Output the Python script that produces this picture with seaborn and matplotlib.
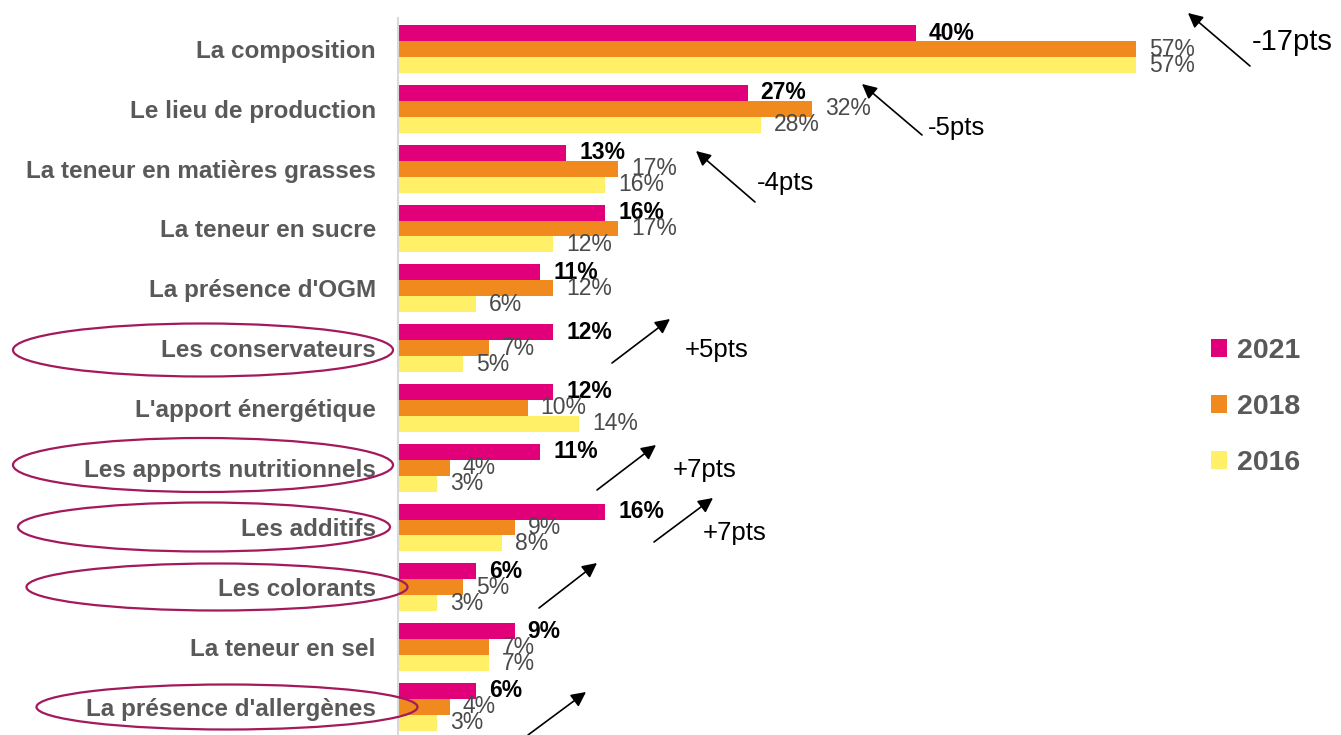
import pandas as pd
import matplotlib.pyplot as plt
import seaborn as sns
from matplotlib.patches import Ellipse, Patch

# Critères regardés sur l'étiquette (%), par année
categories = [
    "La composition",
    "Le lieu de production",
    "La teneur en matières grasses",
    "La teneur en sucre",
    "La présence d'OGM",
    "Les conservateurs",
    "L'apport énergétique",
    "Les apports nutritionnels",
    "Les additifs",
    "Les colorants",
    "La teneur en sel",
    "La présence d'allergènes",
]
years = ["2021", "2018", "2016"]
values_2021 = [40, 27, 13, 16, 11, 12, 12, 11, 16, 6, 9, 6]
values_2018 = [57, 32, 17, 17, 12, 7, 10, 4, 9, 5, 7, 4]
values_2016 = [57, 28, 16, 12, 6, 5, 14, 3, 8, 3, 7, 3]

# Evolutions annotées
trend_labels = ["-17pts", "-5pts", "-4pts", "+5pts", "+7pts", "+7pts"]
circled = ["Les conservateurs", "Les apports nutritionnels", "Les additifs",
           "Les colorants", "La présence d'allergènes"]

palette = {"2021": "#E2007A", "2018": "#F08A1F", "2016": "#FFF068"}

W, H = 1341, 735


def px(x, y):
    # pixel (origin top-left) -> figure fraction
    return (x / W, 1 - y / H)


df = pd.DataFrame({
    "Critère": categories * 3,
    "Année": sum([[y] * len(categories) for y in years], []),
    "Valeur": values_2021 + values_2018 + values_2016,
})

sns.set_style("white")
plt.rcParams["font.family"] = ["Liberation Sans", "DejaVu Sans"]

fig = plt.figure(figsize=(W / 100, H / 100), dpi=100)
ax = fig.add_axes([398 / W, 0, 943 / W, 717 / H])

sns.barplot(
    data=df, x="Valeur", y="Critère", hue="Année", hue_order=years,
    palette=palette, saturation=1, width=0.8, linewidth=0, orient="h",
    ax=ax, legend=False,
)

ax.set_xlim(0, 943 / 12.95)
ax.set_ylim(11.47, -0.52)
ax.set_xlabel("")
ax.set_ylabel("")
ax.set_xticks([])
ax.tick_params(axis="y", length=0, pad=16)
for lab in ax.get_yticklabels():
    lab.set_fontsize(17.5)
    lab.set_fontweight("bold")
    lab.set_color("#595959")
for side in ["top", "right", "bottom"]:
    ax.spines[side].set_visible(False)
ax.spines["left"].set_color("#d9d9d9")
ax.spines["left"].set_linewidth(1.5)

# Etiquettes de valeurs
series = [values_2021, values_2018, values_2016]
for i, cont in enumerate(ax.containers):
    ax.bar_label(
        cont, labels=[f"{v}%" for v in series[i]], padding=9.4,
        fontsize=16.5,
        fontweight="bold" if i == 0 else "normal",
        color="black" if i == 0 else "#4a4a4a",
    )

# Légende
handles = [Patch(facecolor=palette[y], edgecolor="none") for y in years]
leg = fig.legend(
    handles, years, loc="center left", bbox_to_anchor=(1211 / W, 1 - 407 / H),
    frameon=False, fontsize=20.5, handlelength=0.56, handleheight=0.56,
    handletextpad=0.35, labelspacing=1.05, borderpad=0, borderaxespad=0,
)
for t in leg.get_texts():
    t.set_fontweight("bold")
    t.set_color("#595959")

# Flèches d'évolution
trend_pos = [(1252, 50, 21), (928, 135, 18.5), (757, 190, 18.5),
             (685, 357, 18.5), (673, 477, 18.5), (703, 540, 18.5)]
for txt, (x, y, fs) in zip(trend_labels, trend_pos):
    fig.text(*px(x, y), txt, fontsize=fs, color="black", va="baseline")

arrows = [
    ((1250, 66), (1188, 13)),
    ((922, 135), (862, 84)),
    ((755, 202), (696, 151)),
    ((612, 363), (670, 319)),
    ((597, 490), (656, 445)),
    ((654, 542), (713, 498)),
    ((539, 608), (597, 563)),
    ((528, 735), (586, 692)),
]
for tail, head in arrows:
    fig.add_artist(plt.Annotation(
        "", xy=px(*head), xytext=px(*tail),
        xycoords="figure fraction", textcoords="figure fraction",
        arrowprops=dict(arrowstyle="-|>", color="black", lw=1.2,
                        mutation_scale=22, shrinkA=0, shrinkB=0),
    ))

# Ellipses autour des critères mis en avant
ellipse_geom = {
    "Les conservateurs": (203, 350, 380, 53),
    "Les apports nutritionnels": (203, 465, 380, 54),
    "Les additifs": (204, 527, 372, 49),
    "Les colorants": (217, 587, 381, 47),
    "La présence d'allergènes": (227, 707, 381, 45),
}
for name in circled:
    cx, cy, w, h = ellipse_geom[name]
    fig.add_artist(Ellipse(px(cx, cy), w / W, h / H, transform=fig.transFigure,
                           fill=False, edgecolor="#A3195B", lw=1.6))

plt.savefig("out.png", dpi=100)
